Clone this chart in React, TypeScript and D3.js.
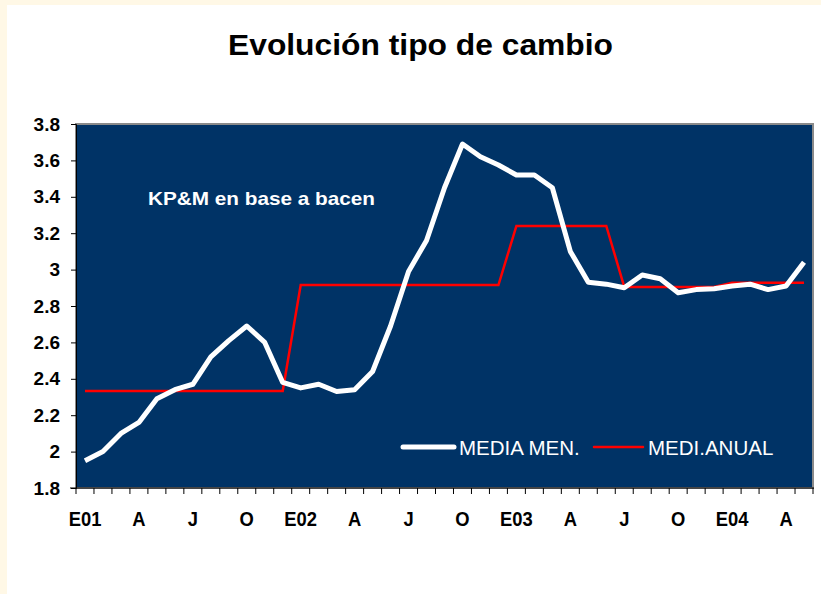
import { useEffect, useRef } from 'react';
import * as d3 from 'd3';

// Jan 2001 .. May 2004, monthly
const months = d3.range(41);
const tickLabels = ['E01', 'A', 'J', 'O', 'E02', 'A', 'J', 'O', 'E03', 'A', 'J', 'O', 'E04', 'A'];
const mediaMensual = [
  1.95, 2.0, 2.1, 2.16, 2.29, 2.34, 2.37, 2.52, 2.61, 2.69, 2.6, 2.38,
  2.35, 2.37, 2.33, 2.34, 2.44, 2.69, 2.99, 3.16, 3.45, 3.69, 3.62, 3.575,
  3.52, 3.52, 3.45, 3.1, 2.93, 2.92, 2.9, 2.97, 2.95, 2.873, 2.89, 2.895,
  2.91, 2.92, 2.89, 2.91, 3.04,
];
const mediaAnual = [
  2.333, 2.333, 2.333, 2.333, 2.333, 2.333, 2.333, 2.333, 2.333, 2.333, 2.333, 2.333,
  2.915, 2.915, 2.915, 2.915, 2.915, 2.915, 2.915, 2.915, 2.915, 2.915, 2.915, 2.915,
  3.24, 3.24, 3.24, 3.24, 3.24, 3.24, 2.905, 2.905, 2.905, 2.905, 2.905, 2.905,
  2.928, 2.928, 2.928, 2.928, 2.928,
];
const yTicks = [1.8, 2, 2.2, 2.4, 2.6, 2.8, 3, 3.2, 3.4, 3.6, 3.8];

const width = 821;
const height = 594;
const margin = { top: 124, right: 8, bottom: 106, left: 76 };

const App = () => {
  const svgRef = useRef(null);

  useEffect(() => {
    const svg = d3.select(svgRef.current);
    svg.selectAll('*').remove();

    const innerWidth = width - margin.left - margin.right;
    const innerHeight = height - margin.top - margin.bottom;

    // page background: white with cream strip on top and left
    svg.append('rect').attr('width', width).attr('height', height).attr('fill', '#fff8e6');
    svg.append('rect').attr('x', 7).attr('y', 5).attr('width', width - 7).attr('height', height - 5).attr('fill', '#ffffff');

    svg.append('text')
      .attr('x', 420.5)
      .attr('y', 55)
      .attr('text-anchor', 'middle')
      .attr('font-family', 'Liberation Sans, Arial, sans-serif')
      .attr('font-weight', 'bold')
      .attr('font-size', 30)
      .attr('textLength', 385)
      .attr('lengthAdjust', 'spacingAndGlyphs')
      .text('Evolución tipo de cambio');

    const xScale = d3.scaleBand()
      .domain(months.map(String))
      .range([0, innerWidth]);

    const yScale = d3.scaleLinear()
      .domain([1.8, 3.8])
      .range([innerHeight, 0]);

    const g = svg.append('g')
      .attr('transform', `translate(${margin.left},${margin.top})`);

    // plot area with grey frame
    g.append('rect')
      .attr('x', 0)
      .attr('y', 0)
      .attr('width', innerWidth)
      .attr('height', innerHeight)
      .attr('fill', '#003366')
      .attr('stroke', '#8a8a8a')
      .attr('stroke-width', 2);

    g.append('text')
      .attr('x', 72)
      .attr('y', 81)
      .attr('fill', '#ffffff')
      .attr('font-family', 'Liberation Sans, Arial, sans-serif')
      .attr('font-weight', 'bold')
      .attr('font-size', 19)
      .attr('textLength', 227)
      .attr('lengthAdjust', 'spacingAndGlyphs')
      .text('KP&M en base a bacen');

    const cx = (i) => xScale(String(i)) + xScale.bandwidth() / 2;

    const line = d3.line()
      .x((d, i) => cx(i))
      .y(d => yScale(d));

    g.append('path')
      .datum(mediaAnual)
      .attr('fill', 'none')
      .attr('stroke', '#ff0000')
      .attr('stroke-width', 2.5)
      .attr('d', line);

    g.append('path')
      .datum(mediaMensual)
      .attr('fill', 'none')
      .attr('stroke', '#ffffff')
      .attr('stroke-width', 5)
      .attr('stroke-linejoin', 'round')
      .attr('d', line);

    // axes
    const yAxis = g.append('g')
      .call(d3.axisLeft(yScale).tickValues(yTicks).tickSize(5).tickFormat(d3.format('~g')));
    yAxis.select('.domain').attr('stroke', '#000');
    yAxis.selectAll('text')
      .attr('x', -16)
      .attr('font-family', 'Liberation Sans, Arial, sans-serif')
      .attr('font-weight', 'bold')
      .attr('font-size', 19)
      .attr('fill', '#000');

    const boundaries = d3.range(42).map(i => i * xScale.bandwidth());
    const xAxis = g.append('g')
      .attr('transform', `translate(0,${innerHeight})`);
    xAxis.append('line')
      .attr('x1', -6)
      .attr('x2', innerWidth + 1)
      .attr('stroke', '#000');
    xAxis.selectAll('.tick-mark')
      .data(boundaries)
      .enter()
      .append('line')
      .attr('x1', d => d)
      .attr('x2', d => d)
      .attr('y1', 0)
      .attr('y2', 6)
      .attr('stroke', '#000');
    xAxis.selectAll('.lbl')
      .data(tickLabels)
      .enter()
      .append('text')
      .attr('x', (d, i) => cx(i * 3))
      .attr('y', 38)
      .attr('text-anchor', 'middle')
      .attr('font-family', 'Liberation Sans, Arial, sans-serif')
      .attr('font-weight', 'bold')
      .attr('font-size', 20)
      .attr('transform', (d, i) => `translate(${cx(i * 3)},0) scale(0.92,1) translate(${-cx(i * 3)},0)`)
      .text(d => d);

    // legend
    const legend = [
      { label: 'MEDIA MEN.', color: '#ffffff', w: 5, x1: 327, x2: 378 },
      { label: 'MEDI.ANUAL', color: '#ff0000', w: 2.5, x1: 518, x2: 567 },
    ];
    const lg = g.append('g').attr('transform', 'translate(0,323)');
    legend.forEach(d => {
      lg.append('line')
        .attr('x1', d.x1)
        .attr('x2', d.x2)
        .attr('stroke', d.color)
        .attr('stroke-width', d.w)
        .attr('stroke-linecap', 'round');
      lg.append('text')
        .attr('x', d.x2 + 5)
        .attr('y', 8)
        .attr('fill', '#ffffff')
        .attr('font-family', 'Liberation Sans, Arial, sans-serif')
        .attr('font-size', 20.5)
        .text(d.label);
    });
  }, []);

  return (
    <div style={{ position: 'absolute', left: 0, top: 0 }}>
      <svg ref={svgRef} width={width} height={height} style={{ display: 'block' }}></svg>
    </div>
  );
};

export default App;
